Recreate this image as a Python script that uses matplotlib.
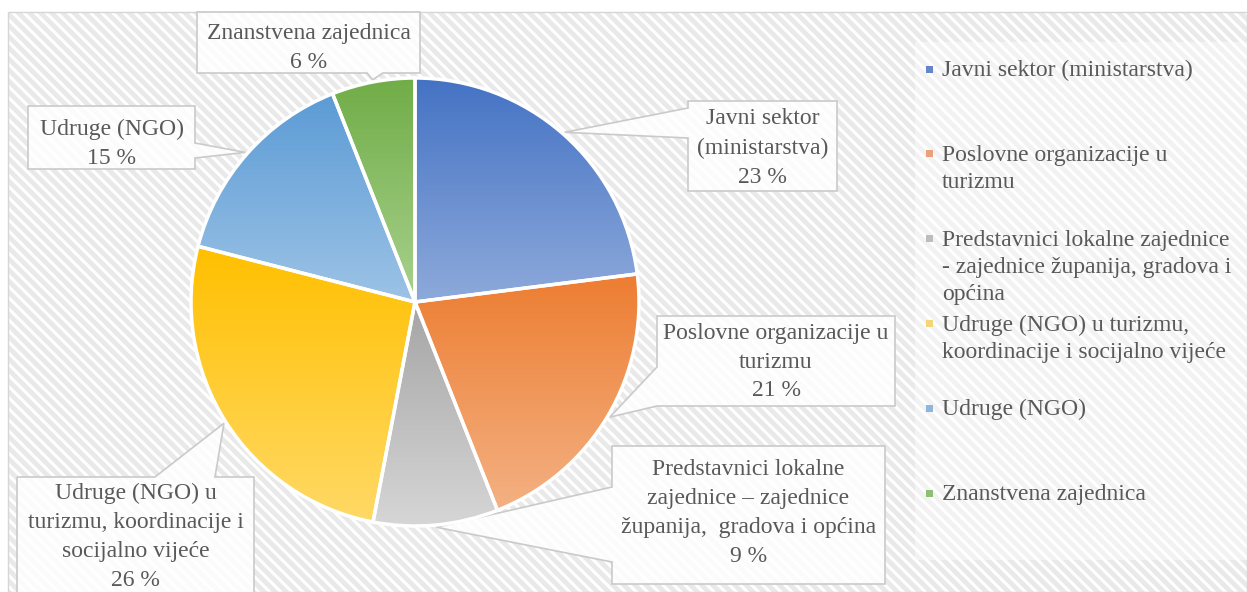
import numpy as np
import matplotlib
matplotlib.use("Agg")
import matplotlib.pyplot as plt
from matplotlib.colors import to_rgb
from matplotlib.patches import Rectangle, Polygon

plt.rcParams['font.family'] = ['Liberation Serif', 'DejaVu Serif']
plt.rcParams['hatch.linewidth'] = 2.2

# shares of stakeholder groups (%)
shares = [23, 21, 9, 26, 15, 6]
legend_labels = [
    "Javni sektor (ministarstva)",
    "Poslovne organizacije u\nturizmu",
    "Predstavnici lokalne zajednice\n- zajednice županija, gradova i\nopćina",
    "Udruge (NGO) u turizmu,\nkoordinacije i socijalno vijeće",
    "Udruge (NGO)",
    "Znanstvena zajednica",
]
box_labels = [
    "Javni sektor\n(ministarstva)",
    "Poslovne organizacije u\nturizmu",
    "Predstavnici lokalne\nzajednice – zajednice\nžupanija,  gradova i općina",
    "Udruge (NGO) u\nturizmu, koordinacije i\nsocijalno vijeće",
    "Udruge (NGO)",
    "Znanstvena zajednica",
]
# gradient colours, top -> bottom of each slice
top_colors = ["#4472c4", "#ed7d31", "#a5a5a5", "#ffc000", "#5b9bd5", "#70ad47"]
bottom_colors = ["#8eaadb", "#f4b183", "#d6d6d6", "#ffd966", "#9dc3e6", "#a9d18e"]
legend_colors = ["#6685c8", "#e9a27c", "#bdbdbd", "#f2d67a", "#8fb5dc", "#8fbf72"]

W, H = 1247, 592
TEXT = "#595959"
FS = 17

fig = plt.figure(figsize=(W / 100, H / 100), dpi=100)
fig.patch.set_facecolor("white")

# overlay axes in pixel units (y down)
ov = fig.add_axes([0, 0, 1, 1])
ov.set_xlim(0, W)
ov.set_ylim(H, 0)
ov.axis("off")

# hatched chart area
ov.add_patch(Rectangle((8, 12), W - 8, H - 12, facecolor="#e9e9e9", edgecolor="white",
                       linewidth=0, hatch="\\\\\\", zorder=0))
ov.add_patch(Rectangle((8, 12), W - 8, H - 12, fill=False, edgecolor="#d6d6d6",
                       linewidth=1.0, zorder=1))
# legend panel
ov.add_patch(Rectangle((915, 42), W - 915, 518, facecolor="white", alpha=0.45,
                       edgecolor="none", zorder=1))

# pie geometry in pixels
PIE_CX, PIE_CY, PIE_R = 415, 302, 224
ax = fig.add_axes([(PIE_CX - PIE_R) / W, (H - PIE_CY - PIE_R) / H, 2 * PIE_R / W, 2 * PIE_R / H])
ax.patch.set_visible(False)

wedges, _ = ax.pie(shares, startangle=90, counterclock=False, colors=top_colors,
                   wedgeprops=dict(linewidth=0))
for w, c0, c1 in zip(wedges, top_colors, bottom_colors):
    ext = w.get_path().get_extents()
    t = np.linspace(0, 1, 256)[:, None, None]
    grad = (1 - t) * np.array(to_rgb(c0)) + t * np.array(to_rgb(c1))
    im = ax.imshow(grad, extent=(ext.x0, ext.x1, ext.y0, ext.y1), origin="upper",
                   aspect="auto", zorder=2, interpolation="bilinear")
    im.set_clip_path(w)
ax.pie(shares, startangle=90, counterclock=False,
       wedgeprops=dict(fill=False, edgecolor="white", linewidth=2.5, zorder=3))
ax.set_xlim(-1, 1)
ax.set_ylim(-1, 1)
ax.set_aspect("auto")
ax.axis("off")

# label callouts: box (x0, y0, x1, y1), side of the pointer, pointer base span
boxes = [
    ((688, 101, 837, 191), "left", (108, 138)),
    ((657, 316, 895, 406), "left", (367, 406)),
    ((612, 446, 885, 584), "left", (487, 562)),
    ((17, 477, 254, 600), "top", (155, 215)),
    ((28, 106, 195, 169), "right", (143, 158)),
    ((197, 12, 420, 73), "bottom", (367, 383)),
]
text_offsets = [2, 1, -2, -2, 6, 6]


def callout(rect, side, base, tip):
    x0, y0, x1, y1 = rect
    a, b = base
    if side == "left":
        pts = [(x0, y0), (x1, y0), (x1, y1), (x0, y1), (x0, b), tip, (x0, a)]
    elif side == "right":
        pts = [(x0, y0), (x1, y0), (x1, a), tip, (x1, b), (x1, y1), (x0, y1)]
    elif side == "top":
        pts = [(x0, y0), (a, y0), tip, (b, y0), (x1, y0), (x1, y1), (x0, y1)]
    else:
        pts = [(x0, y0), (x1, y0), (x1, y1), (b, y1), tip, (a, y1), (x0, y1)]
    return pts


cum = 0.0
total = float(sum(shares))
for val, text, (rect, side, base), dy in zip(shares, box_labels, boxes, text_offsets):
    mid = 90 - 360 * (cum + val / 2) / total
    cum += val
    ang = np.deg2rad(mid)
    tip = (PIE_CX + 1.01 * PIE_R * np.cos(ang), PIE_CY - 1.01 * PIE_R * np.sin(ang))
    pts = callout(rect, side, base, tip)
    ov.add_patch(Polygon(pts, closed=True, facecolor="white", alpha=0.85,
                         edgecolor="none", zorder=4))
    ov.add_patch(Polygon(pts, closed=True, fill=False, edgecolor="#cacaca",
                         linewidth=1.2, zorder=5))
    x0, y0, x1, y1 = rect
    ov.text((x0 + x1) / 2, (y0 + y1) / 2 + dy, f"{text}\n{val} %", ha="center",
            va="center", fontsize=FS, color=TEXT, linespacing=1.5, zorder=6)

# legend
step = 84.8
for i, (lab, col) in enumerate(zip(legend_labels, legend_colors)):
    y = 69 + i * step
    ov.add_patch(Rectangle((926, y - 3.5), 7, 7, facecolor=col, edgecolor="none", zorder=6))
    ov.text(942, y - 9, lab, ha="left", va="top", fontsize=FS, color=TEXT,
            linespacing=1.4, zorder=6)

fig.savefig("out.png", dpi=100)
